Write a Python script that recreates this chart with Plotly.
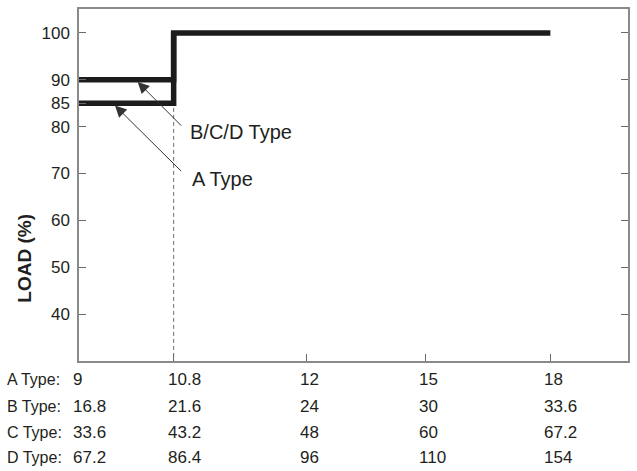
import plotly.graph_objects as go

# ---- data ----
type_labels = ["A Type:", "B Type:", "C Type:", "D Type:"]
a_type_v = ["9", "10.8", "12", "15", "18"]
b_type_v = ["16.8", "21.6", "24", "30", "33.6"]
c_type_v = ["33.6", "43.2", "48", "60", "67.2"]
d_type_v = ["67.2", "86.4", "96", "110", "154"]
# schematic position of each voltage column on the (non-linear) x axis
column_pos = [0, 1, 2.4, 3.66, 4.98]

y_ticks = [40, 50, 60, 70, 80, 85, 90, 100]
right_ticks = [40, 50, 60, 70, 80, 90, 100]

# derating curves (load % at the column positions)
a_curve_x = [column_pos[0], column_pos[1], column_pos[1], column_pos[4]]
a_curve_y = [85, 85, 100, 100]
bcd_curve_x = [column_pos[0], column_pos[1], column_pos[1]]
bcd_curve_y = [90, 90, 100]

FONT = "Liberation Sans, Arial, sans-serif"
TXT = "#231f20"
AX = "#8a8a8a"
TICK = "#6a6a6a"
LINE = "#1c1c1c"

fig = go.Figure()

# dashed guide at 10.8
fig.add_trace(go.Scatter(x=[column_pos[1], column_pos[1]], y=[84, 30], mode="lines",
                         line=dict(color="#6e6e6e", width=1, dash="4px,3px"),
                         hoverinfo="skip", showlegend=False))
fig.add_trace(go.Scatter(x=bcd_curve_x, y=bcd_curve_y, mode="lines",
                         line=dict(color=LINE, width=5.5), showlegend=False))
fig.add_trace(go.Scatter(x=a_curve_x, y=a_curve_y, mode="lines",
                         line=dict(color=LINE, width=5.5), showlegend=False))
# invisible trace for the right axis
fig.add_trace(go.Scatter(x=[column_pos[0]], y=[50], yaxis="y2", mode="markers",
                         marker=dict(opacity=0), hoverinfo="skip", showlegend=False))

ann = []
# arrows
ann.append(dict(x=0.62, y=89.55, ax=1.095, ay=79.9, xref="x", yref="y", axref="x", ayref="y",
                text="", showarrow=True, arrowhead=2, arrowsize=2.3, arrowwidth=1,
                arrowcolor="#333"))
ann.append(dict(x=0.38, y=84.5, ax=1.095, ay=70.2, xref="x", yref="y", axref="x", ayref="y",
                text="", showarrow=True, arrowhead=2, arrowsize=2.3, arrowwidth=1,
                arrowcolor="#333"))
ann.append(dict(x=1.147, y=78.9, xref="x", yref="y", text="B/C/D Type", showarrow=False,
                xanchor="left", yanchor="middle", font=dict(family=FONT, size=20, color=TXT)))
ann.append(dict(x=1.17, y=68.9, xref="x", yref="y", text="A Type", showarrow=False,
                xanchor="left", yanchor="middle", font=dict(family=FONT, size=20, color=TXT)))

# y title
ann.append(dict(x=-0.1, y=0.291, xref="paper", yref="paper", text="<b>LOAD (%)</b>",
                textangle=-90, showarrow=False, xanchor="center", yanchor="middle",
                font=dict(family=FONT, size=19, color=TXT)))

# bottom table
rows = [a_type_v, b_type_v, c_type_v, d_type_v]
row_y = [-0.0537, -0.13, -0.203, -0.274]
for label, vals, ry in zip(type_labels, rows, row_y):
    ann.append(dict(x=0, y=ry, xref="paper", yref="paper", text=label, showarrow=False,
                    xanchor="left", yanchor="middle", xshift=-74,
                    font=dict(family=FONT, size=16, color=TXT)))
    for pos, v in zip(column_pos, vals):
        ann.append(dict(x=pos, y=ry, xref="x", yref="paper", text=v, showarrow=False,
                        xanchor="left", yanchor="middle", xshift=-8,
                        font=dict(family=FONT, size=17, color=TXT)))

fig.update_layout(
    width=637, height=471,
    margin=dict(l=79, r=7, t=7, b=110),
    paper_bgcolor="white", plot_bgcolor="white",
    showlegend=False,
    xaxis=dict(range=[0, 5.8], showgrid=False, zeroline=False, showline=True, mirror=True,
               linecolor=AX, linewidth=1.5, ticks="inside", ticklen=7, tickcolor=TICK,
               tickwidth=1.2, tickvals=column_pos[1:], showticklabels=False, fixedrange=True),
    yaxis=dict(range=[30, 105.1], showgrid=False, zeroline=False, showline=True, mirror=True,
               linecolor=AX, linewidth=1.5, ticks="inside", ticklen=7, tickcolor=TICK,
               tickwidth=1.2, tickvals=y_ticks, ticktext=[str(t) for t in y_ticks],
               tickfont=dict(family=FONT, size=17, color=TXT), ticklabelstandoff=4),
    yaxis2=dict(range=[30, 105.1], overlaying="y", side="right", anchor="x",
                showgrid=False, zeroline=False, showline=False, ticks="inside", ticklen=7,
                tickcolor=TICK, tickwidth=1.2, tickvals=right_ticks, showticklabels=False),
    annotations=ann,
)

fig.write_html("out.html", config={"displayModeBar": False},
               post_script="document.body.style.margin='0';")
